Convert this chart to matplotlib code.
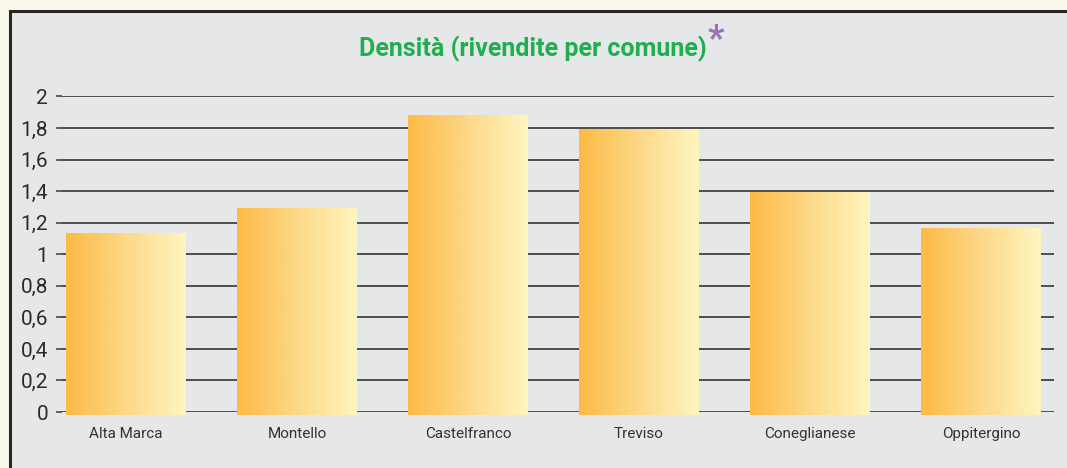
import numpy as np
import matplotlib
matplotlib.use("Agg")
import matplotlib.pyplot as plt
from matplotlib.patches import Rectangle

# dati
categorie = ["Alta Marca", "Montello", "Castelfranco", "Treviso", "Coneglianese", "Oppitergino"]
densita = [1.13, 1.29, 1.88, 1.79, 1.39, 1.16]
yticks = [0, 0.2, 0.4, 0.6, 0.8, 1.0, 1.2, 1.4, 1.6, 1.8, 2.0]
ytick_labels = ["0", "0,2", "0,4", "0,6", "0,8", "1", "1,2", "1,4", "1,6", "1,8", "2"]
titolo = "Densità (rivendite per comune)"

plt.rcParams['font.family'] = ['Roboto', 'DejaVu Sans']

W, H = 1067, 468
fig = plt.figure(figsize=(W / 100, H / 100), dpi=100)
fig.patch.set_facecolor('#FAF7EB')

# pannello grigio con bordo scuro (tagliato a destra e in basso)
pannello = Rectangle((10 / W, -0.05), 1.2, (H - 11) / H + 0.05, transform=fig.transFigure,
                     facecolor='#E6E7E9', edgecolor='#262626', linewidth=2.2, zorder=-1)
fig.patches.append(pannello)

ax = fig.add_axes([62 / W, 56 / H, (1054 - 62) / W, (412 - 96.5) / H])
ax.set_zorder(2)
ax.set_facecolor('none')

x = np.arange(len(categorie))
larghezza = 0.70

# gradiente orizzontale arancio -> giallo chiaro
grad = np.linspace(0, 1, 256).reshape(1, -1)
cmap = matplotlib.colors.LinearSegmentedColormap.from_list('barra', ['#FDBA45', '#FDD888', '#FFF6BF'])

for xi, v in zip(x, densita):
    ax.imshow(grad, extent=[xi - larghezza / 2, xi + larghezza / 2, -0.02, v],
              aspect='auto', cmap=cmap, zorder=3, clip_on=False, interpolation='bicubic')

ax.set_xlim(-0.374, len(categorie) - 1 + 0.427)
ax.set_ylim(0, 2)

ax.set_yticks(yticks)
ax.set_yticklabels(ytick_labels, fontsize=15, color='#2b2b2b')
ax.set_xticks(x)
ax.set_xticklabels(categorie, fontsize=11, color='#333333')
ax.tick_params(axis='x', length=0, pad=11)
ax.tick_params(axis='y', length=4, width=1.1, color='#3a3a3a', pad=6)

ax.yaxis.grid(True, color='#333333', linewidth=1.2)
ax.set_axisbelow(True)
for s in ax.spines.values():
    s.set_visible(False)

# titolo con asterisco
fig.text(533 / W, 1 - 49 / H, titolo, fontsize=18, fontweight='bold', color='#1FAE50',
         ha='center', va='center')
fig.text(716 / W, 1 - 40 / H, "*", fontsize=26, fontweight='bold', color='#9B72B5',
         ha='center', va='center')

fig.savefig('out.png', dpi=100, facecolor=fig.get_facecolor())
